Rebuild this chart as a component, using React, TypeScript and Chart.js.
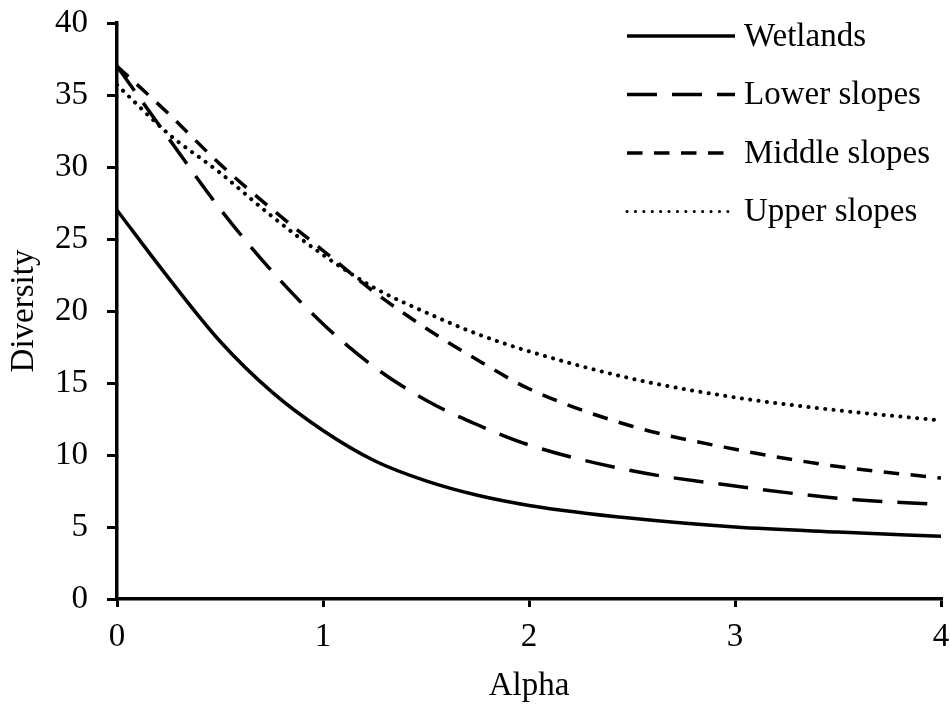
import { useEffect, useRef } from "react";
import { Chart, registerables } from "chart.js";

Chart.register(...registerables);

const alphaValues = [0, 0.25, 0.5, 0.75, 1, 1.25, 1.5, 1.75, 2, 2.5, 3, 3.5, 4];
const wetlands = [27.0, 22.3, 17.9, 14.4, 11.7, 9.6, 8.2, 7.2, 6.5, 5.6, 5.0, 4.65, 4.35];
const lowerSlopes = [37.0, 32.0, 27.1, 22.8, 19.1, 16.1, 13.8, 12.1, 10.7, 8.9, 7.85, 7.0, 6.55];
const middleSlopes = [37.0, 33.7, 30.2, 27.1, 24.2, 21.3, 18.8, 16.6, 14.6, 12.0, 10.4, 9.2, 8.4];
const upperSlopes = [35.7, 32.3, 29.6, 26.6, 23.9, 21.6, 19.9, 18.4, 17.2, 15.3, 14.0, 13.1, 12.4];

const seriesLabels = ["Wetlands", "Lower slopes", "Middle slopes", "Upper slopes"];
const xTickValues = [0, 1, 2, 3, 4];
const yTickValues = [0, 5, 10, 15, 20, 25, 30, 35, 40];

const FONT = "'Liberation Serif', 'Times New Roman', serif";
const FONT_SIZE = 33;

export default function App() {
  const ref = useRef<HTMLCanvasElement>(null);

  useEffect(() => {
    if (!ref.current) return;
    const seriesValues = [wetlands, lowerSlopes, middleSlopes, upperSlopes];
    const dashes: number[][] = [[], [30, 15], [15.5, 11.5], [0.1, 8.3]];
    const caps = ["butt", "butt", "butt", "round"];

    const datasets = seriesLabels.map((label, i) => ({
      label,
      data: alphaValues.map((a, j) => ({ x: a, y: seriesValues[i][j] })),
      borderColor: "#000",
      backgroundColor: "#000",
      borderWidth: i === 3 ? 4 : 3.5,
      borderDash: dashes[i],
      borderCapStyle: caps[i],
      pointRadius: 0,
      fill: false,
      cubicInterpolationMode: "monotone",
      tension: 0.4,
    }));

    const legendPlugin = {
      id: "customLegend",
      afterDraw(chart: any) {
        const ctx = chart.ctx as CanvasRenderingContext2D;
        const area = chart.chartArea;
        const lineStart = area.right - 314;
        const lineEnd = area.right - 206;
        const textX = area.right - 197;
        ctx.save();
        chart.data.datasets.forEach((ds: any, i: number) => {
          const y = area.top + 13 + i * 58.5;
          ctx.beginPath();
          ctx.setLineDash(ds.borderDash || []);
          ctx.lineCap = ds.borderCapStyle || "butt";
          ctx.lineWidth = i === 3 ? 3 : 3.5;
          ctx.strokeStyle = "#000";
          ctx.moveTo(lineStart, y);
          ctx.lineTo(lineEnd, y);
          ctx.stroke();
          ctx.setLineDash([]);
          ctx.fillStyle = "#000";
          ctx.font = `${FONT_SIZE}px ${FONT}`;
          ctx.textBaseline = "middle";
          ctx.textAlign = "left";
          ctx.fillText(ds.label, textX, y + 1);
        });
        ctx.restore();
      },
    };

    const chart = new Chart(ref.current, {
      type: "line",
      data: { datasets: datasets as any },
      plugins: [legendPlugin],
      options: {
        animation: false,
        responsive: false,
        layout: { padding: { top: 23, right: 9, left: 0, bottom: 0 } },
        plugins: {
          legend: { display: false },
          tooltip: { enabled: false },
        },
        scales: {
          x: {
            type: "linear",
            min: 0,
            max: 4,
            afterBuildTicks: (scale: any) => {
              scale.ticks = xTickValues.map((v) => ({ value: v }));
            },
            afterFit: (scale: any) => {
              scale.height = 108;
              scale.paddingLeft = 0;
              scale.paddingRight = 0;
            },
            ticks: {
              color: "#000",
              font: { family: FONT, size: FONT_SIZE },
              padding: 11,
              maxRotation: 0,
            },
            grid: {
              display: true,
              drawOnChartArea: false,
              drawTicks: true,
              tickLength: 8,
              color: "#000",
              lineWidth: 3,
            },
            border: { display: true, color: "#000", width: 3.5 },
            title: {
              display: true,
              text: "Alpha",
              color: "#000",
              font: { family: FONT, size: FONT_SIZE, lineHeight: 1.2 },
              padding: { top: 0, bottom: 1 },
            },
          },
          y: {
            type: "linear",
            min: 0,
            max: 40,
            afterBuildTicks: (scale: any) => {
              scale.ticks = yTickValues.map((v) => ({ value: v }));
            },
            afterFit: (scale: any) => {
              scale.width = 117;
              scale.paddingTop = 0;
              scale.paddingBottom = 0;
            },
            ticks: {
              color: "#000",
              font: { family: FONT, size: FONT_SIZE },
              padding: 19,
            },
            grid: {
              display: true,
              drawOnChartArea: false,
              drawTicks: true,
              tickLength: 10,
              color: "#000",
              lineWidth: 3,
            },
            border: { display: true, color: "#000", width: 3.5 },
            title: {
              display: true,
              text: "Diversity",
              color: "#000",
              font: { family: FONT, size: FONT_SIZE, lineHeight: 1.2 },
              padding: { top: 5, bottom: 0 },
            },
          },
        },
      } as any,
    });

    return () => chart.destroy();
  }, []);

  return (
    <div
      style={{
        position: "fixed",
        left: 0,
        top: 0,
        width: 950,
        height: 707,
        background: "#fff",
      }}
    >
      <canvas ref={ref} width={950} height={707} style={{ display: "block" }} />
    </div>
  );
}
